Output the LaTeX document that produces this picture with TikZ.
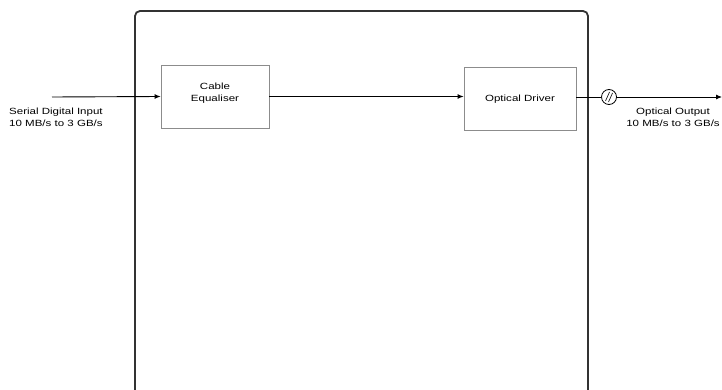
\documentclass[tikz,border=0pt]{standalone}
\usepackage{fontspec}
\newfontfamily\diagfont[FakeStretch=1.28]{Liberation Sans}
\usetikzlibrary{positioning}
\usetikzlibrary{arrows.meta}
\tikzset{>={Latex[length=6pt,width=5pt]}}
\tikzset{
	% blocks inside the unit
	blockbox/.style={draw=black!45,line width=0.8pt,align=center,inner sep=0pt,
		font=\diagfont\fontsize{9}{12}\selectfont},
	% signal labels
	sigtext/.style={inner sep=0pt,font=\diagfont\fontsize{9}{11.5}\selectfont},
	sigline/.style={line width=0.9pt},
}

\begin{document}
\begin{tikzpicture}[x=1pt,y=-1pt]
	\useasboundingbox (0,0) rectangle (722,390);
	
	% outer unit, open at the bottom
	\draw[line width=1.8pt,black!80,rounded corners=5pt] (135,390) -- (135,11) -- (588,11) -- (588,390);
	
	\node (eq) [blockbox,minimum width=108pt,minimum height=63pt] at (215,96.5) {Cable\\Equaliser\\[-4pt]};
	\node (drv) [blockbox,minimum width=112pt,minimum height=63pt] at (520,99) {Optical Driver};
	
	\coordinate (in) at (52,97);
	\coordinate (out) at (722,97);
	\node (conv) [draw,circle,line width=0.8pt,minimum size=15pt,inner sep=0pt] at (609,97) {};
	
	\draw[sigline,->] (in) -- (eq.west);
	\draw[sigline,->] (eq.east) -- (eq.east -| drv.west);
	\draw[sigline] (drv.east |- conv) -- (conv.west);
	\draw[sigline,->] (conv.east) -- (out);
	\draw[line width=0.6pt] ([xshift=-3.5pt,yshift=-4pt]conv.center) -- ([xshift=0.5pt,yshift=5pt]conv.center);
	\draw[line width=0.6pt] ([xshift=-0.5pt,yshift=-5pt]conv.center) -- ([xshift=3.5pt,yshift=4pt]conv.center);
	
	\node (inlbl) [sigtext,anchor=north west,align=left] at (9,108) {Serial Digital Input\\10 MB/s to 3 GB/s};
	\node (outlbl) [sigtext,anchor=north,align=center] at (673,108) {Optical Output\\10 MB/s to 3 GB/s};
	
\end{tikzpicture}
\end{document}
